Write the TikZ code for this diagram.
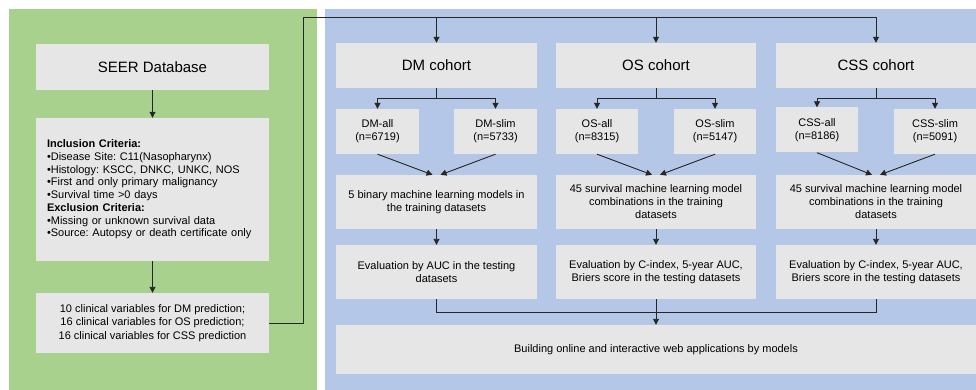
\documentclass[tikz,border=0pt]{standalone}
\usepackage{fontspec}
\setmainfont{Liberation Sans}
\usetikzlibrary{arrows.meta}
\definecolor{panelgreen}{HTML}{A9D18E}
\definecolor{panelblue}{HTML}{B4C7E7}
\definecolor{boxgray}{HTML}{E7E6E6}
\definecolor{linecol}{HTML}{262626}
\frenchspacing
\tikzset{
  box/.style={fill=boxgray, inner sep=0pt, align=center, font=\fontsize{11}{13}\selectfont},
  bigbox/.style={box, font=\fontsize{15}{18}\selectfont},
  conn/.style={draw=linecol, line width=0.9pt},
  arr/.style={conn, -{Triangle[width=6pt,length=6pt]}},
}
\begin{document}
\begin{tikzpicture}[x=1pt,y=-1pt]
\useasboundingbox (0,0) rectangle (976,390);
% panels
\fill[panelgreen] (9,9) rectangle (317,390);
\fill[panelblue] (325,9) rectangle (976,390);

% left column
\node[bigbox, minimum width=233pt, minimum height=46pt] (seer) at (152.5,67) {SEER Database};
\node[box, minimum width=233pt, minimum height=143pt, text width=211pt, align=left, font=\fontsize{11}{12.7}\selectfont] (incl) at (152.5,189.5) {%
\textbf{Inclusion Criteria:}\\
•Disease Site: C11(Nasopharynx)\\
•Histology: KSCC, DNKC, UNKC, NOS\\
•First and only primary malignancy\\
•Survival time >0 days\\
\textbf{Exclusion Criteria:}\\
•Missing or unknown survival data\\
•Source: Autopsy or death certificate only};
\node[box, minimum width=233pt, minimum height=60pt, font=\fontsize{11}{13.3}\selectfont] (vars) at (152.5,323) {10 clinical variables for DM prediction;\\16 clinical variables for OS prediction;\\16 clinical variables for CSS prediction};

% cohorts
\node[bigbox, minimum width=201pt, minimum height=45pt] (dmc) at (436.5,65.5) {DM cohort};
\node[bigbox, minimum width=200pt, minimum height=45pt] (osc) at (656,65.5) {OS cohort};
\node[bigbox, minimum width=200pt, minimum height=45pt] (cssc) at (876,65.5) {CSS cohort};

% sub cohorts
\node[box, minimum width=83pt, minimum height=45pt] (dmall) at (377.5,131.5) {DM-all\\(n=6719)};
\node[box, minimum width=83pt, minimum height=45pt] (dmslim) at (495.5,131.5) {DM-slim\\(n=5733)};
\node[box, minimum width=82pt, minimum height=45pt] (osall) at (597,131.5) {OS-all\\(n=8315)};
\node[box, minimum width=82pt, minimum height=45pt] (osslim) at (715,131.5) {OS-slim\\(n=5147)};
\node[box, minimum width=82pt, minimum height=45pt] (cssall) at (817,130) {CSS-all\\(n=8186)};
\node[box, minimum width=82pt, minimum height=45pt] (cssslim) at (935,131.5) {CSS-slim\\(n=5091)};

% training
\node[box, minimum width=201pt, minimum height=54pt] (dmtr) at (436.5,202) {5 binary machine learning models in\\the training datasets};
\node[box, minimum width=200pt, minimum height=54pt] (ostr) at (656,202) {45 survival machine learning model\\combinations in the training\\datasets};
\node[box, minimum width=200pt, minimum height=54pt] (csstr) at (876,202) {45 survival machine learning model\\combinations in the training\\datasets};

% evaluation
\node[box, minimum width=201pt, minimum height=54pt] (dmev) at (436.5,272) {Evaluation by AUC in the testing\\datasets};
\node[box, minimum width=200pt, minimum height=54pt] (osev) at (656,272) {Evaluation by C-index, 5-year AUC,\\Briers score in the testing datasets};
\node[box, minimum width=200pt, minimum height=54pt] (cssev) at (876,272) {Evaluation by C-index, 5-year AUC,\\Briers score in the testing datasets};

% final
\node[box, minimum width=640pt, minimum height=49pt] (final) at (656,349.5) {Building online and interactive web applications by models};

% connectors left
\draw[arr] (seer) -- (incl);
\draw[arr] (incl) -- (vars);
\coordinate (tl) at (303,17);
\coordinate (tr) at (876,17);
\draw[conn] (vars.east) -| (tl) -- (tr);
\draw[arr] (dmc.north |- tl) -- (dmc.north);
\draw[arr] (osc.north |- tl) -- (osc.north);
\draw[arr] (tr) -- (cssc.north);

% splits
\draw[conn] (dmc.south) -- ++(0,10) coordinate (dmsp);
\draw[arr] (dmsp) -| (dmall.north);
\draw[arr] (dmsp) -| (dmslim.north);
\draw[conn] (osc.south) -- ++(0,10) coordinate (ossp);
\draw[arr] (ossp) -| (osall.north);
\draw[arr] (ossp) -| (osslim.north);
\draw[conn] (cssc.south) -- ++(0,10) coordinate (csssp);
\draw[arr] (csssp) -| (cssall.north);
\draw[arr] (csssp) -| (cssslim.north);

% converging
\draw[arr] (dmall.south) -- ([xshift=-4pt]dmtr.north);
\draw[arr] (dmslim.south) -- ([xshift=4pt]dmtr.north);
\draw[arr] (osall.south) -- ([xshift=-4pt]ostr.north);
\draw[arr] (osslim.south) -- ([xshift=4pt]ostr.north);
\draw[arr] (cssall.south) -- ([xshift=-4pt]csstr.north);
\draw[arr] (cssslim.south) -- ([xshift=4pt]csstr.north);

% training to eval
\draw[arr] (dmtr) -- (dmev);
\draw[arr] (ostr) -- (osev);
\draw[arr] (csstr) -- (cssev);

% eval to final
\draw[conn] (dmev.south) -- ++(0,13) -| (cssev.south);
\draw[arr] (osev.south) -- (final.north);
\end{tikzpicture}
\end{document}
